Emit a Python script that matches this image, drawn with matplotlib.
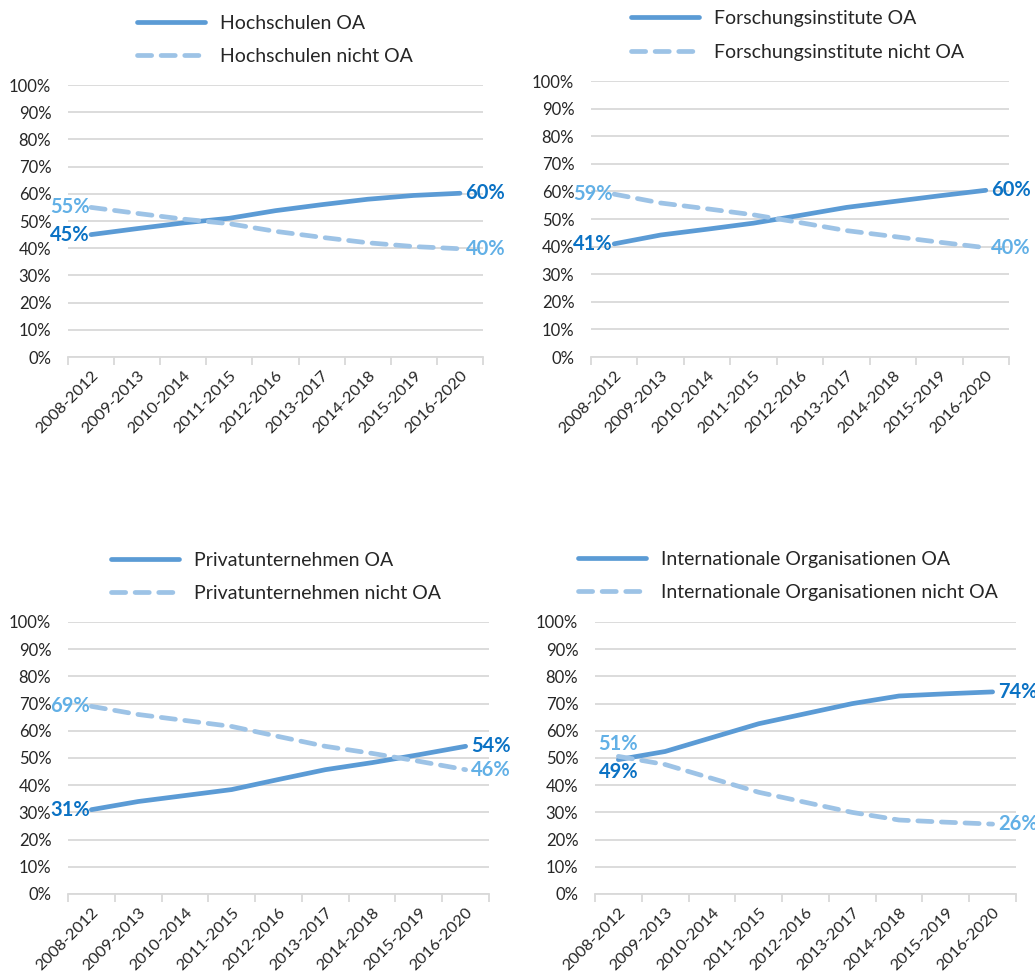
import matplotlib
matplotlib.use("Agg")
import matplotlib.pyplot as plt
from matplotlib.ticker import FixedLocator

plt.rcParams['font.family'] = ['Lato', 'DejaVu Sans']

periods = ["2008-2012", "2009-2013", "2010-2014", "2011-2015", "2012-2016",
           "2013-2017", "2014-2018", "2015-2019", "2016-2020"]

hochschulen_oa = [45.0, 47.2, 49.3, 51.0, 53.8, 56.0, 58.0, 59.4, 60.2]
hochschulen_noa = [55.0, 52.8, 50.7, 49.0, 46.2, 44.0, 42.0, 40.6, 39.8]

forschung_oa = [41.0, 44.2, 46.3, 48.5, 51.3, 54.2, 56.3, 58.4, 60.4]
forschung_noa = [59.0, 55.8, 53.7, 51.5, 48.7, 45.8, 43.7, 41.6, 39.6]

privat_oa = [31.0, 34.0, 36.2, 38.4, 42.1, 45.7, 48.3, 51.2, 54.3]
privat_noa = [69.0, 66.0, 63.8, 61.6, 57.9, 54.3, 51.7, 48.8, 45.7]

intorg_oa = [49.4, 52.4, 57.5, 62.6, 66.3, 70.0, 72.8, 73.6, 74.3]
intorg_noa = [50.6, 47.6, 42.5, 37.4, 33.7, 30.0, 27.2, 26.4, 25.7]

panels = [
    ("Hochschulen", hochschulen_oa, hochschulen_noa),
    ("Forschungsinstitute", forschung_oa, forschung_noa),
    ("Privatunternehmen", privat_oa, privat_noa),
    ("Internationale Organisationen", intorg_oa, intorg_noa),
]

W, H = 1035, 975
OA_LINE = "#5B9BD5"
NOA_LINE = "#9DC3E6"
OA_TEXT = "#0B72C4"
NOA_TEXT = "#62B0E6"
GRID = "#D9D9D9"
TXT = "#262626"

# axes boxes in pixels: left, right, top(100%), bottom(0%)
boxes = [
    (68, 483, 85, 357),
    (591, 1009, 81, 357),
    (68, 489, 622, 894),
    (595, 1016, 622, 894),
]
# legend anchors: handle start x, row-1 y, row-2 y
legend_pos = [
    (137, 23, 57),
    (631, 18, 53),
    (111, 560, 594),
    (578, 558, 594),
]

fig = plt.figure(figsize=(W / 100, H / 100), dpi=100)

for i, ((name, oa, noa), (l, r, t, b), (lx, ly1, ly2)) in enumerate(zip(panels, boxes, legend_pos)):
    ax = fig.add_axes([l / W, 1 - b / H, (r - l) / W, (b - t) / H])
    x = list(range(len(periods)))
    l1, = ax.plot(x, oa, color=OA_LINE, lw=3.4, solid_capstyle="round",
                  solid_joinstyle="round", label=f"{name} OA", zorder=3)
    l2, = ax.plot(x, noa, color=NOA_LINE, lw=3.4, linestyle=(0, (3.0, 2.0)),
                  dash_capstyle="round", label=f"{name} nicht OA", zorder=3)

    ax.set_xlim(-0.5, len(periods) - 0.5)
    ax.set_ylim(0, 100)
    ax.set_yticks(range(0, 101, 10))
    ax.set_yticklabels([f"{v}%" for v in range(0, 101, 10)])
    ax.grid(axis="y", color=GRID, lw=1.3, zorder=0)
    ax.set_axisbelow(True)
    for s in ["left", "right", "top"]:
        ax.spines[s].set_visible(False)
    ax.spines["bottom"].set_color(GRID)
    ax.spines["bottom"].set_linewidth(1.3)

    ax.set_xticks(x)
    ax.set_xticklabels(periods, rotation=45, ha="right", rotation_mode="anchor")
    ax.xaxis.set_minor_locator(FixedLocator([k - 0.5 for k in range(len(periods) + 1)]))
    ax.tick_params(axis="x", which="major", length=0, pad=8, labelsize=11.8, labelcolor=TXT)
    ax.tick_params(axis="x", which="minor", length=6, width=1.3, color=GRID)
    ax.tick_params(axis="y", length=0, pad=12, labelsize=12, labelcolor=TXT)

    # value labels at both ends
    fmt = lambda v: f"{v:.0f}%"
    fs = 14.5
    if i == 3:
        ax.annotate(fmt(noa[0]), (0, noa[0]), xytext=(0, 2), textcoords="offset points",
                    ha="center", va="bottom", color=NOA_TEXT, fontsize=fs,
                    fontweight="bold", annotation_clip=False)
        ax.annotate(fmt(oa[0]), (0, oa[0]), xytext=(0, -2), textcoords="offset points",
                    ha="center", va="top", color=OA_TEXT, fontsize=fs,
                    fontweight="bold", annotation_clip=False)
    else:
        ax.annotate(fmt(oa[0]), (0, oa[0]), xytext=(-1, 0), textcoords="offset points",
                    ha="right", va="center", color=OA_TEXT, fontsize=fs,
                    fontweight="bold", annotation_clip=False)
        ax.annotate(fmt(noa[0]), (0, noa[0]), xytext=(-1, 0), textcoords="offset points",
                    ha="right", va="center", color=NOA_TEXT, fontsize=fs,
                    fontweight="bold", annotation_clip=False)
    n = len(periods) - 1
    ax.annotate(fmt(oa[-1]), (n, oa[-1]), xytext=(4, 0), textcoords="offset points",
                ha="left", va="center", color=OA_TEXT, fontsize=fs,
                fontweight="bold", annotation_clip=False)
    ax.annotate(fmt(noa[-1]), (n, noa[-1]), xytext=(4, 0), textcoords="offset points",
                ha="left", va="center", color=NOA_TEXT, fontsize=fs,
                fontweight="bold", annotation_clip=False)

    leg = fig.legend(handles=[l1, l2], loc="center left",
                     bbox_to_anchor=(lx / W, 1 - (ly1 + ly2) / 2 / H),
                     frameon=False, fontsize=14, handlelength=3.5,
                     handletextpad=0.75, labelspacing=0.85, borderpad=0,
                     borderaxespad=0)
    for txt in leg.get_texts():
        txt.set_color(TXT)

fig.savefig("out.png", dpi=100)
